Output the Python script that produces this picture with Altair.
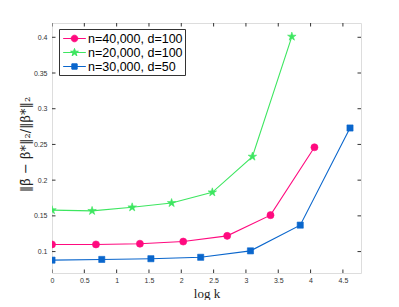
import altair as alt
import pandas as pd

series_names = ["n=40,000, d=100", "n=20,000, d=100", "n=30,000, d=50"]
colors = ["#FF0A7F", "#3DE660", "#0A66CC"]

x_pink = [0, 0.68, 1.36, 2.03, 2.71, 3.38, 4.06]
y_pink = [0.110, 0.110, 0.111, 0.114, 0.122, 0.151, 0.246]
x_green = [0, 0.62, 1.24, 1.85, 2.48, 3.10, 3.71]
y_green = [0.158, 0.157, 0.162, 0.168, 0.183, 0.233, 0.401]
x_blue = [0, 0.77, 1.53, 2.30, 3.07, 3.84, 4.61]
y_blue = [0.088, 0.089, 0.090, 0.092, 0.101, 0.137, 0.273]

x_ticks = [0, 0.5, 1, 1.5, 2, 2.5, 3, 3.5, 4, 4.5]
y_ticks = [0.1, 0.15, 0.2, 0.25, 0.3, 0.35, 0.4]
x_dom = [0, 4.78]
y_dom = [0.07, 0.42]

rows = []
for name, xs, ys in zip(series_names, [x_pink, x_green, x_blue], [y_pink, y_green, y_blue]):
    for a, b in zip(xs, ys):
        rows.append({"series": name, "x": a, "y": b})
df = pd.DataFrame(rows)

x_scale = alt.Scale(domain=x_dom, nice=False, zero=False)
y_scale = alt.Scale(domain=y_dom, nice=False, zero=False)

x_axis = alt.Axis(values=x_ticks, format="~g", ticks=False, domain=False, grid=False,
                  labelFontSize=7, labelPadding=3, labelColor="#333", labelFont="Liberation Sans",
                  labelFlush=False,
                  title="log k", titleFont="Liberation Serif", titleFontSize=13,
                  titleFontWeight="normal", titleColor="#222", titleY=20, titleBaseline="middle")
y_axis = alt.Axis(values=y_ticks, format="~g", ticks=False, domain=False, grid=False,
                  labelFontSize=7, labelPadding=5, labelColor="#333", labelFont="Liberation Sans",
                  labelFlush=False,
                  title="‖β\u0304 − β*‖₂/‖β*‖₂", titleFont="DejaVu Serif", titleFontSize=13,
                  titleFontWeight="normal", titleColor="#222", titleX=-27, titleY=121,
                  titleAngle=-90, titleBaseline="middle", titleAlign="center")

X = alt.X("x:Q", scale=x_scale, axis=x_axis)
Y = alt.Y("y:Q", scale=y_scale, axis=y_axis)

star_unit = ("M0,-1L0.225,-0.309L0.951,-0.309L0.363,0.118L0.588,0.809L0,0.382"
             "L-0.588,0.809L-0.363,0.118L-0.951,-0.309L-0.225,-0.309Z")
marker_shapes = ["circle", star_unit, "square"]
marker_sizes = [50, 80, 38]

layers = []
for name, shp, sz, col in zip(series_names, marker_shapes, marker_sizes, colors):
    sub = alt.Chart(df).transform_filter(alt.datum.series == name)
    layers.append(sub.mark_line(strokeWidth=1.1, color=col, clip=True).encode(x=X, y=Y))
    layers.append(
        sub.mark_point(shape=shp, filled=True, size=sz, color=col, stroke=col,
                       strokeWidth=0.6, opacity=1, clip=True)
        .encode(x=X, y=Y)
    )

leg_paths = [
    "M-1.62,0H1.62M0.47,0A0.47,0.47,0,1,1,-0.47,0A0.47,0.47,0,1,1,0.47,0Z",
    "M-1.62,0H1.62M0,-0.58L0.130,-0.179L0.552,-0.179L0.211,0.069L0.341,0.469L0,0.222"
    "L-0.341,0.469L-0.211,0.069L-0.552,-0.179L-0.130,-0.179Z",
    "M-1.62,0H1.62M-0.38,-0.38H0.38V0.38H-0.38Z",
]
leg_kw = dict(orient="none", legendX=7, legendY=6, padding=2, rowPadding=0,
              symbolSize=196, symbolStrokeWidth=1, symbolOffset=6, labelOffset=6,
              labelFont="Liberation Sans", labelFontSize=12.5, labelColor="black",
              labelLimit=300, strokeColor="#333", fillColor="white", cornerRadius=0)

legend_layer = alt.Chart(df).transform_filter("false").mark_point(filled=True, opacity=1, strokeWidth=1).encode(
    x=X, y=Y,
    fill=alt.Fill("series:N", title="", scale=alt.Scale(domain=series_names, range=colors), legend=alt.Legend(**leg_kw)),
    stroke=alt.Stroke("series:N", title="", scale=alt.Scale(domain=series_names, range=colors), legend=alt.Legend(**leg_kw)),
    shape=alt.Shape("series:N", title="", scale=alt.Scale(domain=series_names, range=leg_paths), legend=alt.Legend(**leg_kw)),
)
layers.append(legend_layer)

xt = pd.DataFrame({"v": x_ticks})
yt = pd.DataFrame({"v": y_ticks})
tick_kw = dict(size=7, thickness=1, color="#333", clip=True, opacity=1)
for edge in y_dom:
    layers.append(alt.Chart(xt).mark_tick(orient="vertical", **tick_kw).encode(
        x=alt.X("v:Q", scale=x_scale, axis=x_axis),
        y=alt.YDatum(edge, scale=y_scale, axis=y_axis)))
for edge in x_dom:
    layers.append(alt.Chart(yt).mark_tick(orient="horizontal", **tick_kw).encode(
        y=alt.Y("v:Q", scale=y_scale, axis=y_axis),
        x=alt.XDatum(edge, scale=x_scale, axis=x_axis)))

chart = alt.layer(*layers).properties(
    width=309, height=250,
    autosize=alt.AutoSizeParams(type="none"),
    padding={"left": 44, "top": 15, "right": 30, "bottom": 27},
).configure_view(stroke="#444", strokeWidth=1).configure(background="white")

chart.save("out.html", embed_options={"renderer": "svg", "actions": False})
